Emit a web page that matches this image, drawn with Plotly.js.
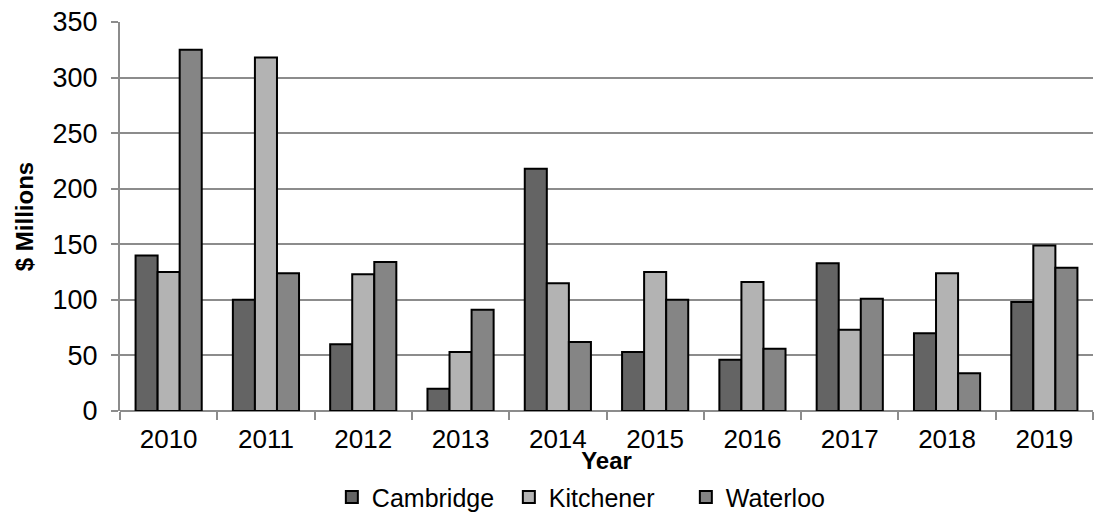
<!DOCTYPE html>
<html><head><meta charset="utf-8">
<script src="https://cdn.plot.ly/plotly-3.0.1.min.js"></script>
<style>html,body{margin:0;padding:0;background:#fff}#chart{width:1103px;height:519px}</style>
</head><body><div id="chart"></div>
<script>
const years = ['2010','2011','2012','2013','2014','2015','2016','2017','2018','2019'];
const cambridge = [140, 100, 60, 20, 218, 53, 46, 133, 70, 98];
const kitchener = [125, 318, 123, 53, 115, 125, 116, 73, 124, 149];
const waterloo = [325, 124, 134, 91, 62, 100, 56, 101, 34, 129];

const mk = (name, y, color) => ({
  type: 'bar', name: name, x: years, y: y,
  marker: {color: color, line: {color: '#000', width: 2}}
});
const data = [
  mk('Cambridge', cambridge, '#646464'),
  mk('Kitchener', kitchener, '#b3b3b3'),
  mk('Waterloo', waterloo, '#858585')
];
const font = {family: 'Liberation Sans, Arial, sans-serif', color: '#000'};
const f = s => Object.assign({size: s}, font);
const layout = {
  width: 1103, height: 519,
  margin: {l: 120, r: 10, t: 22, b: 108},
  paper_bgcolor: '#fff', plot_bgcolor: '#fff',
  font: f(25),
  barmode: 'group', bargap: 0.32, bargroupgap: 0,
  showlegend: true,
  legend: {orientation: 'h', x: 0.4906, xanchor: 'center', yref: 'container', y: 0.042, yanchor: 'middle',
           font: f(25), traceorder: 'normal', itemwidth: 30,
           entrywidth: 132, entrywidthmode: 'pixels'},
  xaxis: {
    type: 'category', tickson: 'boundaries', ticks: 'outside', ticklen: 8, tickwidth: 2,
    tickcolor: '#8c8c8c', showline: false, showgrid: false, automargin: false,
    tickfont: f(26), ticklabelstandoff: 10,
    title: {text: '<b>Year</b>', font: f(24), standoff: 0}
  },
  yaxis: {
    range: [0, 350], dtick: 50, ticks: 'outside', ticklen: 7, tickwidth: 2, tickcolor: '#8c8c8c',
    showline: true, linecolor: '#8c8c8c', linewidth: 2, automargin: false,
    showgrid: true, gridcolor: '#8c8c8c', gridwidth: 2,
    zeroline: true, zerolinecolor: '#8c8c8c', zerolinewidth: 2,
    tickfont: f(27), ticklabelstandoff: 8,
    title: {text: '<b>$ Millions</b>', font: f(24), standoff: 12}
  }
};
Plotly.newPlot('chart', data, layout, {staticPlot: true});
</script></body></html>
